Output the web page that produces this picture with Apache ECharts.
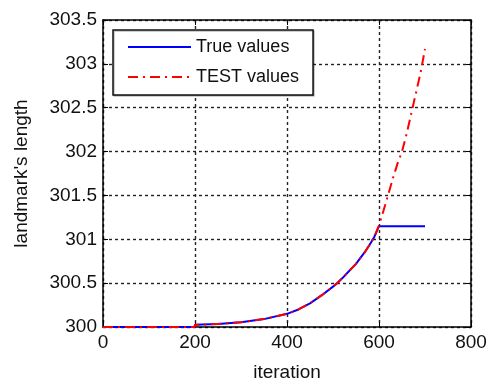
<!DOCTYPE html>
<html><head><meta charset="utf-8">
<script src="https://cdn.jsdelivr.net/npm/echarts@6/dist/echarts.min.js"></script>
<style>html,body{margin:0;padding:0;background:#fff}#c{width:488px;height:381px}</style>
</head><body><div id="c"></div><script>
const seriesNames = ['True values', 'TEST values'];
const iterTrue = [0, 100, 199, 200, 250, 300, 350, 400, 425, 450, 475, 500, 510, 520, 530, 540, 550, 560, 570, 580, 590, 600, 700];
const valTrue  = [300.0, 300.0, 300.0, 300.025, 300.035, 300.055, 300.09, 300.15, 300.2, 300.27, 300.36, 300.46, 300.505, 300.555, 300.61, 300.665, 300.72, 300.79, 300.86, 300.94, 301.03, 301.15, 301.15];
const iterTest = [0, 100, 199, 200, 250, 300, 350, 400, 425, 450, 475, 500, 510, 520, 530, 540, 550, 560, 570, 580, 590, 600, 610, 620, 630, 640, 650, 660, 670, 680, 690, 700];
const valTest  = [300.0, 300.0, 300.0, 300.025, 300.035, 300.055, 300.09, 300.15, 300.2, 300.27, 300.36, 300.46, 300.505, 300.555, 300.61, 300.665, 300.72, 300.79, 300.86, 300.94, 301.03, 301.16, 301.33, 301.51, 301.69, 301.86, 302.0, 302.2, 302.43, 302.66, 302.89, 303.17];
const xMin = 0, xMax = 800, xStep = 200;
const yMin = 300, yMax = 303.5, yStep = 0.5;
const xName = 'iteration';
const yName = "landmark's length";

const FONT = "'Liberation Sans', Arial, sans-serif";
const pairs = (xs, ys) => xs.map((x, i) => [x, ys[i]]);
const chart = echarts.init(document.getElementById('c'), null, {renderer: 'canvas'});
const axisCommon = {
  axisLine: {show: true, onZero: false, lineStyle: {color: '#000', width: 1.5}},
  axisTick: {show: true, inside: true, length: 5, lineStyle: {color: '#000', width: 1}},
};
const gridLine = {show: true, lineStyle: {color: '#222', type: [3, 3], width: 1.4}};
chart.setOption({
  backgroundColor: '#fff',
  animation: false,
  grid: {left: 103, right: 17, top: 20, bottom: 54, containLabel: false, outerBoundsMode: 'none'},
  legend: {
    data: seriesNames,
    orient: 'vertical',
    left: 113, top: 30,
    backgroundColor: '#fff',
    borderColor: '#111', borderWidth: 1.5, borderRadius: 0,
    padding: [8, 14, 9, 14],
    itemWidth: 63, itemHeight: 14, itemGap: 12,
    itemStyle: {opacity: 0, borderWidth: 0},
    textStyle: {fontFamily: FONT, fontSize: 18, color: '#111'},
    shadowColor: 'rgba(0,0,0,0.25)', shadowOffsetX: 1, shadowOffsetY: 1, shadowBlur: 0
  },
  xAxis: [{
    type: 'value', min: xMin, max: xMax, interval: xStep, position: 'bottom',
    name: xName, nameLocation: 'middle', nameGap: 36,
    nameTextStyle: {fontFamily: FONT, fontSize: 19, color: '#111'},
    axisLabel: {fontFamily: FONT, fontSize: 19, color: '#111', margin: 6},
    splitLine: gridLine,
    ...axisCommon
  }, {
    type: 'value', min: xMin, max: xMax, interval: xStep, position: 'top',
    axisLabel: {show: false}, splitLine: {show: false}, ...axisCommon
  }],
  yAxis: [{
    type: 'value', min: yMin, max: yMax, interval: yStep, position: 'left',
    name: yName, nameLocation: 'middle', nameGap: 72, nameRotate: 90,
    nameTextStyle: {fontFamily: FONT, fontSize: 19, color: '#111'},
    axisLabel: {fontFamily: FONT, fontSize: 19, color: '#111', margin: 6},
    splitLine: gridLine,
    ...axisCommon
  }, {
    type: 'value', min: yMin, max: yMax, interval: yStep, position: 'right',
    axisLabel: {show: false}, splitLine: {show: false}, ...axisCommon
  }],
  series: [{
    name: seriesNames[0], type: 'line', symbol: 'none', showSymbol: false, xAxisIndex: 0, yAxisIndex: 0,
    data: pairs(iterTrue, valTrue),
    lineStyle: {color: '#0000ff', width: 2}, itemStyle: {color: '#0000ff'}, z: 3
  }, {
    name: seriesNames[1], type: 'line', symbol: 'none', showSymbol: false, xAxisIndex: 0, yAxisIndex: 0,
    data: pairs(iterTest, valTest),
    lineStyle: {color: '#ff0000', width: 2, type: [10, 5, 2, 5]}, itemStyle: {color: '#ff0000'}, z: 4
  }]
});
</script></body></html>
